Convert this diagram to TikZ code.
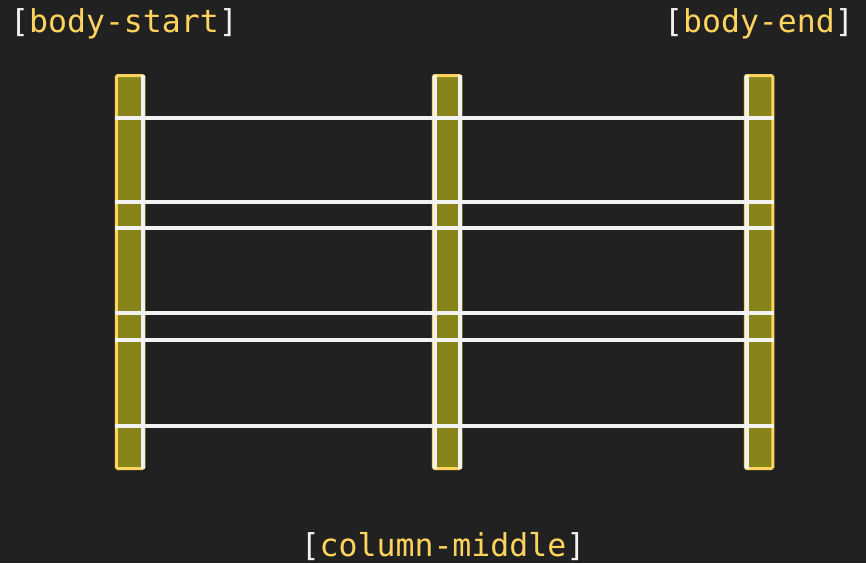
\documentclass[tikz,border=0pt]{standalone}
\usepackage{fontspec}
\setmonofont{DejaVu Sans Mono}
\definecolor{bgdark}{HTML}{212121}
\definecolor{colfill}{HTML}{878519}
\definecolor{lineyellow}{HTML}{FFD45C}
\definecolor{gridwhite}{HTML}{F2F2F2}
\newcommand{\bracketed}[1]{{\color{gridwhite}[}#1{\color{gridwhite}]}}

\begin{document}
\begin{tikzpicture}[x=1pt,y=-1pt]

    \fill[bgdark] (0,0) rectangle (866,563);
    \useasboundingbox (0,0) rectangle (866,563);

    \begin{scope}[every node/.style={draw=lineyellow,fill=colfill,line width=3pt,rounded corners=1.5pt,minimum width=27.5pt,minimum height=393pt,inner sep=0pt}]
        \node (start) at (130,272) {};
        \node (middle) at (447,272) {};
        \node (end) at (759,272) {};
    \end{scope}

    \begin{scope}[every path/.style={draw=gridwhite,line width=3.4pt}]
        \foreach \x in {143,435,460,747}
            \draw (\x,75) -- (\x,469);
        \foreach \y in {118,202,228,313,340,426}
            \draw (start.west |- 0,\y) -- (end.east |- 0,\y);
    \end{scope}

    \begin{scope}[every node/.style={text=lineyellow,inner sep=0pt,font=\fontsize{31.5}{36}\selectfont\ttfamily}]
        \node[anchor=base west] (startlabel) at (10,32.5) {\bracketed{body-start}};
        \node[anchor=base east] (endlabel) at (854,32.5) {\bracketed{body-end}};
        \node[anchor=base] (middlelabel) at (443,556) {\bracketed{column-middle}};
    \end{scope}

\end{tikzpicture}
\end{document}
